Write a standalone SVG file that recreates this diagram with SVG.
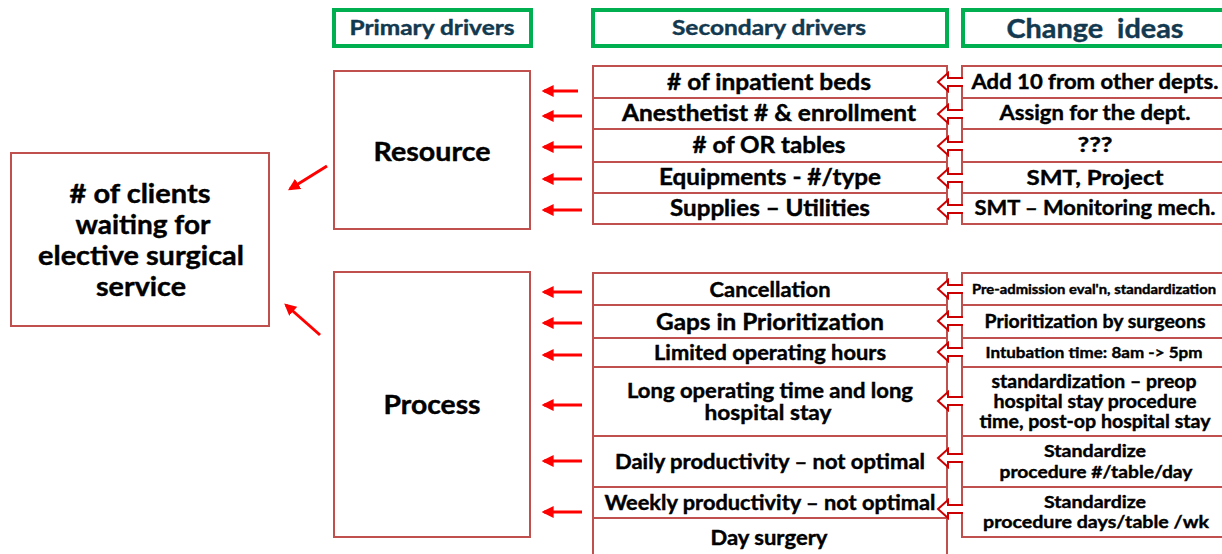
<svg xmlns="http://www.w3.org/2000/svg" width="1222" height="554" viewBox="0 0 1222 554">
<defs>
<style>
.box{fill:#fff;stroke:#C0504D;stroke-width:2}
.hdr{fill:#fff;stroke:#00B050;stroke-width:4}
.t{font-family:Lato,"Open Sans","Liberation Sans",sans-serif;font-weight:bold;fill:#000;text-anchor:middle;stroke:#000;stroke-width:0.4}
.h{font-family:Lato,"Open Sans","Liberation Sans",sans-serif;font-weight:bold;fill:#12394F;text-anchor:middle;stroke:#12394F;stroke-width:0.4}
.arr{stroke:#FF0000;stroke-width:3;fill:none}
.blk{fill:#fff;stroke:#CC0000;stroke-width:2;stroke-linejoin:miter}
</style>
<marker id="ah" viewBox="0 0 10 10" refX="8" refY="5" markerWidth="4" markerHeight="4" orient="auto" markerUnits="strokeWidth">
<path d="M0,0 L10,5 L0,10 z" fill="#FF0000"/>
</marker>
</defs>
<rect width="1222" height="554" fill="#fff"/>

<g id="headers">
<g id="hdr-primary"><rect class="hdr" x="334" y="10" width="197" height="36"/><text class="h" x="432" y="35" font-size="20" textLength="165" lengthAdjust="spacingAndGlyphs">Primary drivers</text></g>
<g id="hdr-secondary"><rect class="hdr" x="593" y="10" width="354" height="36"/><text class="h" x="769" y="35" font-size="20" textLength="194" lengthAdjust="spacingAndGlyphs">Secondary drivers</text></g>
<g id="hdr-change"><rect class="hdr" x="963" y="10" width="270" height="36"/><text class="h" x="1095" y="38" font-size="26" textLength="177" lengthAdjust="spacingAndGlyphs" style="white-space:pre">Change  ideas</text></g>
</g>

<g id="goal">
<rect class="box" x="11" y="153" width="258" height="173"/>
<text class="t" font-size="26" x="140" y="203" textLength="141" lengthAdjust="spacingAndGlyphs"># of clients</text>
<text class="t" font-size="26" x="143" y="234" textLength="135" lengthAdjust="spacingAndGlyphs">waiting for</text>
<text class="t" font-size="26" x="141" y="265" textLength="206" lengthAdjust="spacingAndGlyphs">elective surgical</text>
<text class="t" font-size="26" x="141" y="296" textLength="90" lengthAdjust="spacingAndGlyphs">service</text>
</g>

<g id="resource"><rect class="box" x="334" y="71" width="196" height="158"/><text class="t" font-size="26" x="432" y="161" textLength="117" lengthAdjust="spacingAndGlyphs">Resource</text></g>
<g id="process"><rect class="box" x="334" y="272" width="196" height="265"/><text class="t" font-size="26" x="432" y="414" textLength="97" lengthAdjust="spacingAndGlyphs">Process</text></g>

<g id="sec-resource">
<g id="s1"><rect class="box" x="593" y="66" width="354" height="32"/><text class="t" font-size="22" x="769" y="90" textLength="204" lengthAdjust="spacingAndGlyphs"># of inpatient beds</text></g>
<g id="s2"><rect class="box" x="593" y="98" width="354" height="31"/><text class="t" font-size="22" x="769" y="121" textLength="294" lengthAdjust="spacingAndGlyphs">Anesthetist # &amp; enrollment</text></g>
<g id="s3"><rect class="box" x="593" y="129" width="354" height="33"/><text class="t" font-size="22" x="769" y="153" textLength="153" lengthAdjust="spacingAndGlyphs"># of OR tables</text></g>
<g id="s4"><rect class="box" x="593" y="162" width="354" height="31"/><text class="t" font-size="22" x="770" y="185" textLength="222" lengthAdjust="spacingAndGlyphs">Equipments - #/type</text></g>
<g id="s5"><rect class="box" x="593" y="193" width="354" height="31"/><text class="t" font-size="22" x="770" y="216" textLength="200" lengthAdjust="spacingAndGlyphs">Supplies – Utilities</text></g>
</g>

<g id="chg-resource">
<g id="c1"><rect class="box" x="962" y="66" width="270" height="32"/><text class="t" font-size="20" x="1095" y="89" textLength="247" lengthAdjust="spacingAndGlyphs">Add 10 from other depts.</text></g>
<g id="c2"><rect class="box" x="962" y="98" width="270" height="31"/><text class="t" font-size="20" x="1095" y="120" textLength="191" lengthAdjust="spacingAndGlyphs">Assign for the dept.</text></g>
<g id="c3"><rect class="box" x="962" y="129" width="270" height="33"/><text class="t" font-size="20" x="1095" y="152" textLength="35" lengthAdjust="spacingAndGlyphs">???</text></g>
<g id="c4"><rect class="box" x="962" y="162" width="270" height="31"/><text class="t" font-size="21" x="1095" y="185" textLength="137" lengthAdjust="spacingAndGlyphs">SMT, Project</text></g>
<g id="c5"><rect class="box" x="962" y="193" width="270" height="31"/><text class="t" font-size="20" x="1095" y="215" textLength="241" lengthAdjust="spacingAndGlyphs">SMT – Monitoring mech.</text></g>
</g>

<g id="sec-process">
<g id="s6"><rect class="box" x="593" y="273" width="354" height="32"/><text class="t" font-size="20" x="770" y="297" textLength="121" lengthAdjust="spacingAndGlyphs">Cancellation</text></g>
<g id="s7"><rect class="box" x="593" y="305" width="354" height="33"/><text class="t" font-size="22" x="770" y="330" textLength="228" lengthAdjust="spacingAndGlyphs">Gaps in Prioritization</text></g>
<g id="s8"><rect class="box" x="593" y="338" width="354" height="29"/><text class="t" font-size="20" x="770" y="360" textLength="232" lengthAdjust="spacingAndGlyphs">Limited operating hours</text></g>
<g id="s9"><rect class="box" x="593" y="367" width="354" height="69"/><text class="t" font-size="20" x="770" y="398" textLength="286" lengthAdjust="spacingAndGlyphs">Long operating time and long</text><text class="t" font-size="20" x="768" y="420" textLength="127" lengthAdjust="spacingAndGlyphs">hospital stay</text></g>
<g id="s10"><rect class="box" x="593" y="436" width="354" height="51"/><text class="t" font-size="20" x="770" y="469" textLength="310" lengthAdjust="spacingAndGlyphs">Daily productivity – not optimal</text></g>
<g id="s11"><rect class="box" x="593" y="487" width="354" height="31"/><text class="t" font-size="20" x="770" y="510" textLength="331" lengthAdjust="spacingAndGlyphs">Weekly productivity – not optimal</text></g>
<g id="s12"><rect class="box" x="593" y="518" width="354" height="50"/><text class="t" font-size="20" x="769" y="545" textLength="117" lengthAdjust="spacingAndGlyphs">Day surgery</text></g>
</g>

<g id="chg-process">
<g id="c6"><rect class="box" x="962" y="273" width="270" height="32"/><text class="t" font-size="13" x="1094" y="294" textLength="244" lengthAdjust="spacingAndGlyphs">Pre-admission eval'n, standardization</text></g>
<g id="c7"><rect class="box" x="962" y="305" width="270" height="33"/><text class="t" font-size="18" x="1095" y="328" textLength="221" lengthAdjust="spacingAndGlyphs">Prioritization by surgeons</text></g>
<g id="c8"><rect class="box" x="962" y="338" width="270" height="29"/><text class="t" font-size="16" x="1094" y="358" textLength="217" lengthAdjust="spacingAndGlyphs">Intubation time: 8am -&gt; 5pm</text></g>
<g id="c9"><rect class="box" x="962" y="367" width="270" height="69"/>
<text class="t" font-size="18" x="1094" y="388" textLength="205" lengthAdjust="spacingAndGlyphs">standardization – preop</text>
<text class="t" font-size="18" x="1095" y="408" textLength="203" lengthAdjust="spacingAndGlyphs">hospital stay procedure</text>
<text class="t" font-size="18" x="1095" y="428" textLength="231" lengthAdjust="spacingAndGlyphs">time, post-op hospital stay</text></g>
<g id="c10"><rect class="box" x="962" y="436" width="270" height="51"/>
<text class="t" font-size="17" x="1095" y="457" textLength="102" lengthAdjust="spacingAndGlyphs">Standardize</text>
<text class="t" font-size="17" x="1096" y="478" textLength="193" lengthAdjust="spacingAndGlyphs">procedure #/table/day</text></g>
<g id="c11"><rect class="box" x="962" y="487" width="270" height="50"/>
<text class="t" font-size="17" x="1095" y="508" textLength="102" lengthAdjust="spacingAndGlyphs">Standardize</text>
<text class="t" font-size="17" x="1096" y="528" textLength="226" lengthAdjust="spacingAndGlyphs">procedure days/table /wk</text></g>
</g>

<g id="connectors">
<g id="red-arrows">
<line class="arr" x1="578" y1="91" x2="544" y2="91" marker-end="url(#ah)"/>
<line class="arr" x1="582" y1="116" x2="544" y2="116" marker-end="url(#ah)"/>
<line class="arr" x1="582" y1="147" x2="544" y2="147" marker-end="url(#ah)"/>
<line class="arr" x1="582" y1="179" x2="544" y2="179" marker-end="url(#ah)"/>
<line class="arr" x1="582" y1="210" x2="544" y2="210" marker-end="url(#ah)"/>
<line class="arr" x1="582" y1="292" x2="544" y2="292" marker-end="url(#ah)"/>
<line class="arr" x1="582" y1="323" x2="544" y2="323" marker-end="url(#ah)"/>
<line class="arr" x1="582" y1="355" x2="544" y2="355" marker-end="url(#ah)"/>
<line class="arr" x1="582" y1="405" x2="544" y2="405" marker-end="url(#ah)"/>
<line class="arr" x1="582" y1="461" x2="544" y2="461" marker-end="url(#ah)"/>
<line class="arr" x1="582" y1="512" x2="544" y2="512" marker-end="url(#ah)"/>
<line class="arr" x1="327" y1="166" x2="290" y2="189" marker-end="url(#ah)"/>
<line class="arr" x1="320" y1="335" x2="286" y2="305" marker-end="url(#ah)"/>
</g>
<g id="block-arrows">
<path class="blk" transform="translate(0,82)" d="M963,-4 L948,-4 L948,-9 L938,0 L948,9 L948,4 L963,4"/>
<path class="blk" transform="translate(0,114)" d="M963,-4 L948,-4 L948,-9 L938,0 L948,9 L948,4 L963,4"/>
<path class="blk" transform="translate(0,146)" d="M963,-4 L948,-4 L948,-9 L938,0 L948,9 L948,4 L963,4"/>
<path class="blk" transform="translate(0,178)" d="M963,-4 L948,-4 L948,-9 L938,0 L948,9 L948,4 L963,4"/>
<path class="blk" transform="translate(0,209)" d="M963,-4 L948,-4 L948,-9 L938,0 L948,9 L948,4 L963,4"/>
<path class="blk" transform="translate(0,289)" d="M963,-4 L948,-4 L948,-9 L938,0 L948,9 L948,4 L963,4"/>
<path class="blk" transform="translate(0,321)" d="M963,-4 L948,-4 L948,-9 L938,0 L948,9 L948,4 L963,4"/>
<path class="blk" transform="translate(0,352)" d="M963,-4 L948,-4 L948,-9 L938,0 L948,9 L948,4 L963,4"/>
<path class="blk" transform="translate(0,401)" d="M963,-4 L948,-4 L948,-9 L938,0 L948,9 L948,4 L963,4"/>
<path class="blk" transform="translate(0,458)" d="M963,-4 L948,-4 L948,-9 L938,0 L948,9 L948,4 L963,4"/>
<path class="blk" transform="translate(0,509)" d="M963,-4 L948,-4 L948,-9 L938,0 L948,9 L948,4 L963,4"/>
</g>
</g>
</svg>
